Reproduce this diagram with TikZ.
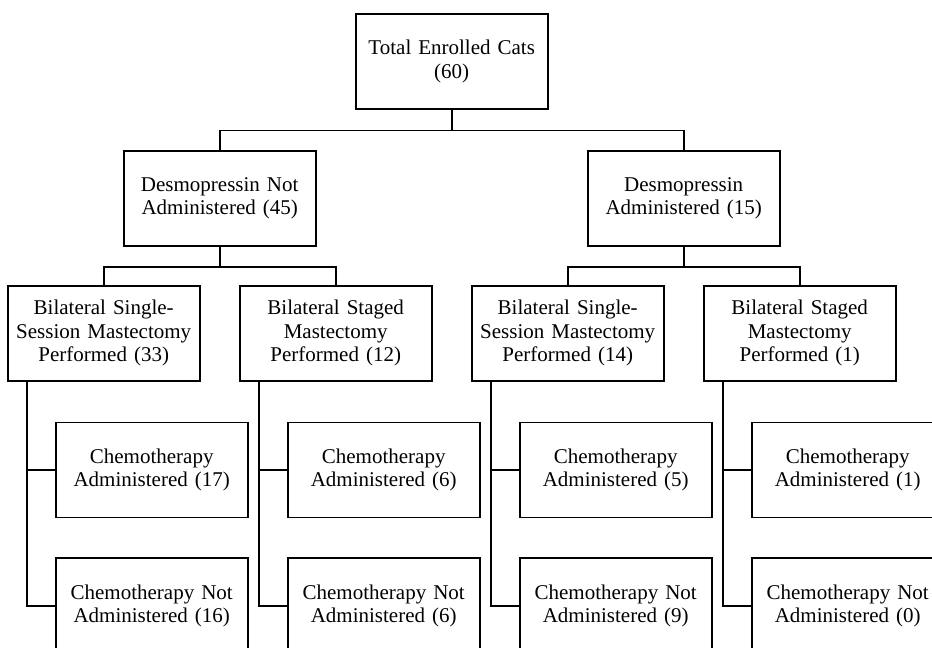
\documentclass[tikz,border=0pt]{standalone}
\usepackage{fontspec}
\setmainfont{Liberation Serif}
\usepackage{tikz}
\usetikzlibrary{positioning}

\begin{document}
\begin{tikzpicture}[
  x=1pt, y=1pt,
  box/.style={rectangle, draw=black, line width=1.8pt, text width=184pt,
    minimum width=192pt, minimum height=95pt, align=center, inner sep=0pt,
    font=\fontsize{21}{23.6}\selectfont},
  link/.style={draw=black, line width=1.8pt},
  node distance=39pt
]
\clip (0,0) rectangle (932,-648);
\useasboundingbox (0,0) rectangle (932,-648);

\node[box] (total) at (451.7,-61.5) {Total Enrolled Cats\\(60)};

\node[box, below=39.9pt of total, xshift=-232pt] (dnot)
  {Desmopressin Not\\Administered (45)};
\node[box, below=39.9pt of total, xshift=232pt] (dyes)
  {Desmopressin\\Administered (15)};

\node[box, below=38.2pt of dnot, xshift=-116pt] (single1)
  {Bilateral Single-\\Session Mastectomy\\Performed (33)};
\node[box, below=38.2pt of dnot, xshift=116pt] (staged1)
  {Bilateral Staged\\Mastectomy\\Performed (12)};
\node[box, below=38.2pt of dyes, xshift=-116pt] (single2)
  {Bilateral Single-\\Session Mastectomy\\Performed (14)};
\node[box, below=38.2pt of dyes, xshift=116pt] (staged2)
  {Bilateral Staged\\Mastectomy\\Performed (1)};

% chemotherapy per mastectomy group
\node[box, below=40pt of single1.south west, anchor=north west, xshift=48pt] (chyes1)
  {Chemotherapy\\Administered (17)};
\node[box, below=of chyes1] (chno1) {Chemotherapy Not\\Administered (16)};

\node[box, below=40pt of staged1.south west, anchor=north west, xshift=48pt] (chyes2)
  {Chemotherapy\\Administered (6)};
\node[box, below=of chyes2] (chno2) {Chemotherapy Not\\Administered (6)};

\node[box, below=40pt of single2.south west, anchor=north west, xshift=48pt] (chyes3)
  {Chemotherapy\\Administered (5)};
\node[box, below=of chyes3] (chno3) {Chemotherapy Not\\Administered (9)};

\node[box, below=40pt of staged2.south west, anchor=north west, xshift=48pt] (chyes4)
  {Chemotherapy\\Administered (1)};
\node[box, below=of chyes4] (chno4) {Chemotherapy Not\\Administered (0)};

\foreach \f/\t in {total/dnot, total/dyes}
  \draw[link] (\f.south) -- ++(0,-20.5pt) -| (\t.north);
\foreach \f/\t in {dnot/single1, dnot/staged1, dyes/single2, dyes/staged2}
  \draw[link] (\f.south) -- ++(0,-20pt) -| (\t.north);
\foreach \f/\t in {single1/chyes1, single1/chno1, staged1/chyes2, staged1/chno2,
                   single2/chyes3, single2/chno3, staged2/chyes4, staged2/chno4}
  \draw[link] (\f.south west) ++(20pt,0) |- (\t.west);
\end{tikzpicture}
\end{document}
